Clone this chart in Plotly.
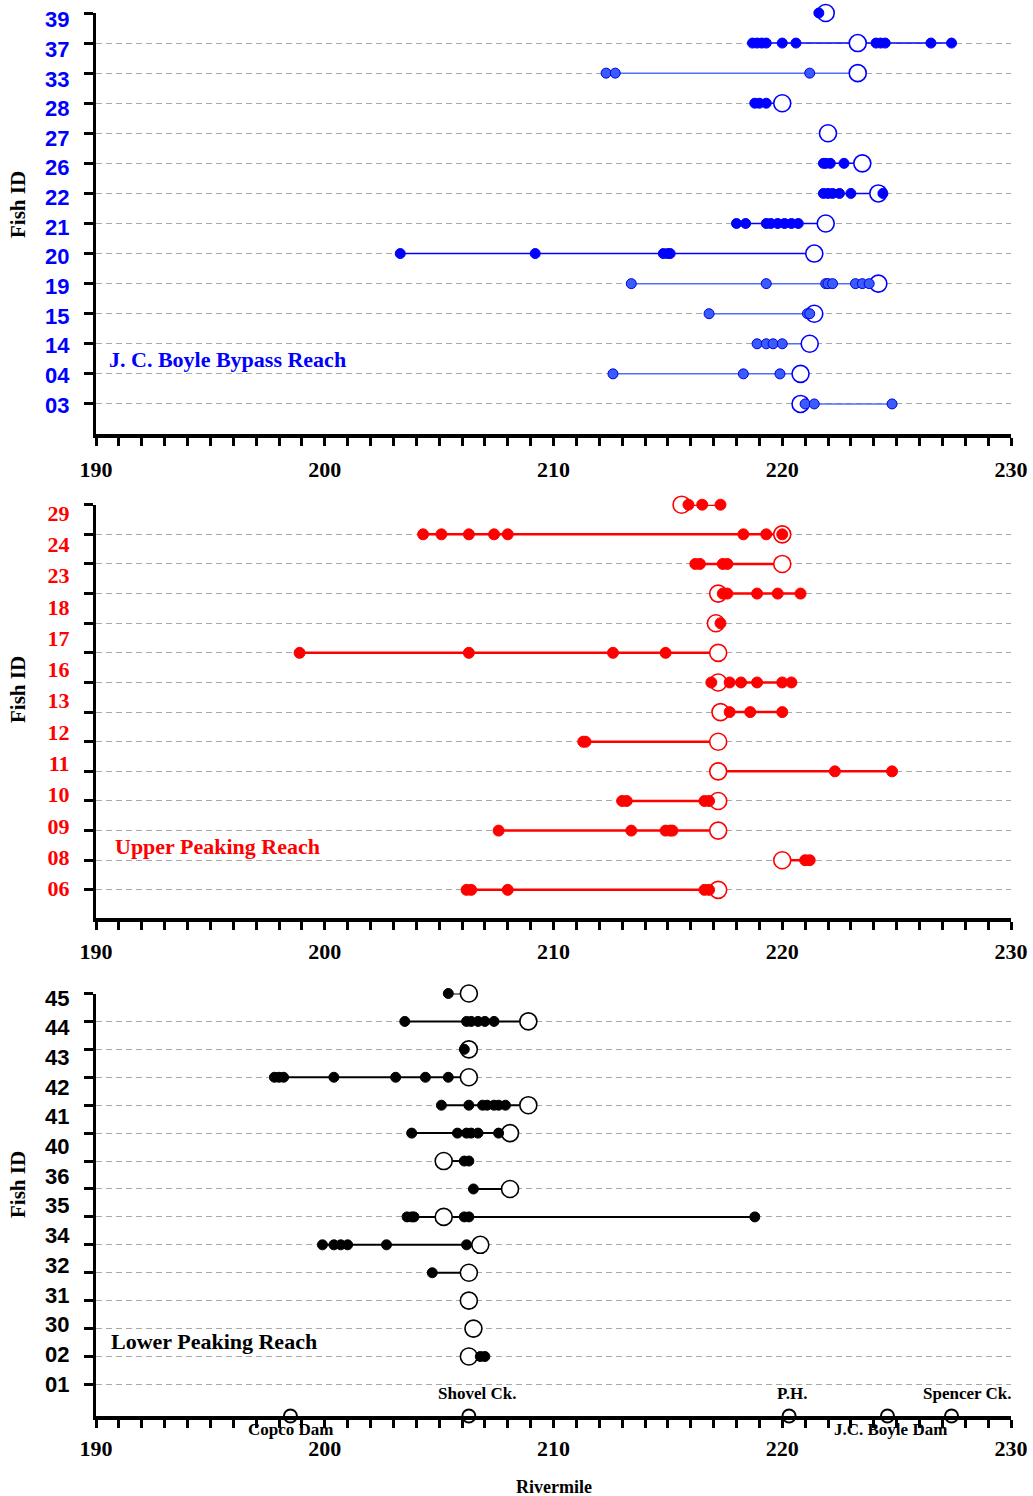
import numpy as np
import plotly.graph_objects as go

# ---------------- data ----------------
# Panel 1: J. C. Boyle Bypass Reach
bypass_ids = ["39", "37", "33", "28", "27", "26", "22", "21", "20", "19", "15", "14", "04", "03"]
bypass_release = [221.9, 223.3, 223.3, 220.0, 222.0, 223.5, 224.2, 221.9, 221.4, 224.2, 221.4, 221.2, 220.8, 220.8]
bypass_locations = [
    [221.6],
    [218.7, 218.9, 219.1, 219.3, 220.0, 220.6, 224.1, 224.3, 224.5, 226.5, 227.4],
    [212.3, 212.7, 221.2],
    [218.8, 219.0, 219.3],
    [],
    [221.8, 221.9, 222.1, 222.7],
    [221.8, 222.0, 222.2, 222.5, 223.0, 224.4],
    [218.0, 218.4, 219.3, 219.5, 219.8, 220.1, 220.4, 220.7],
    [203.3, 209.2, 214.8, 215.0, 215.1],
    [213.4, 219.3, 221.9, 222.0, 222.2, 223.2, 223.5, 223.8],
    [216.8, 221.1, 221.2],
    [218.9, 219.3, 219.6, 220.0],
    [212.6, 218.3, 219.9],
    [221.0, 221.4, 224.8],
]

# Panel 2: Upper Peaking Reach
upper_ids = ["29", "24", "23", "18", "17", "16", "13", "12", "11", "10", "09", "08", "06"]
upper_release = [215.6, 220.0, 220.0, 217.2, 217.1, 217.2, 217.2, 217.3, 217.2, 217.2, 217.2, 217.2, 220.0, 217.2]
upper_locations = [
    [215.9, 216.5, 217.3],
    [204.3, 205.1, 206.3, 207.4, 208.0, 218.3, 219.3, 220.0],
    [216.2, 216.4, 217.4, 217.6],
    [217.4, 217.6, 218.9, 219.8, 220.8],
    [217.3],
    [198.9, 206.3, 212.6, 214.9],
    [216.9, 217.7, 218.2, 218.9, 220.0, 220.4],
    [217.7, 218.6, 220.0],
    [211.3, 211.4],
    [222.3, 224.8],
    [213.0, 213.2, 216.6, 216.8],
    [207.6, 213.4, 214.9, 215.1, 215.2],
    [221.0, 221.2],
    [206.2, 206.4, 208.0, 216.6, 216.8],
]

# Panel 3: Lower Peaking Reach
lower_ids = ["45", "44", "43", "42", "41", "40", "36", "35", "34", "32", "31", "30", "02", "01"]
lower_release = [206.3, 208.9, 206.3, 206.3, 208.9, 208.1, 205.2, 208.1, 205.2, 206.8, 206.3, 206.3, 206.5, 206.3]
lower_locations = [
    [205.4],
    [203.5, 206.2, 206.4, 206.7, 207.0, 207.4],
    [206.1],
    [197.8, 198.0, 198.2, 200.4, 203.1, 204.4, 205.4],
    [205.1, 206.3, 206.9, 207.1, 207.4, 207.6, 207.9],
    [203.8, 205.8, 206.2, 206.4, 206.7, 207.6],
    [206.1, 206.3],
    [206.5],
    [203.6, 203.8, 203.9, 206.1, 206.3, 218.8],
    [199.9, 200.4, 200.7, 201.0, 202.7, 206.2],
    [204.7],
    [],
    [],
    [206.8, 207.0],
]

landmark_names = ["Copco Dam", "Shovel Ck.", "P.H.", "J.C. Boyle Dam", "Spencer Ck."]
landmark_rm = [198.5, 206.3, 220.3, 224.6, 227.4]

x_ticks = [190, 200, 210, 220, 230]

# ---------------- layout helpers ----------------
W, H = 1033, 1496
ML, MR = 96, 22
PW = W - ML - MR


def pyf(px):
    return 1 - px / H


def pxf(px):
    return (px - ML) / PW


SERIF = "Liberation Serif"
SANS = "Liberation Sans"

panels = [
    dict(ids=bypass_ids, rel=bypass_release, loc=bypass_locations, color="#0000ff",
         top=13, bottom=434, n_grid=14, axis_row=14.0, lab=(0.22, 13.03),
         font=SANS, light_rows=[2, 9, 10, 11, 12, 13], lw=1.5, msize=10,
         title="J. C. Boyle Bypass Reach", title_pos=(107, 360), fish_y=205, xstand=5),
    dict(ids=upper_ids, rel=upper_release, loc=upper_locations, color="#ff0000",
         top=504.7, bottom=918, n_grid=14, axis_row=13.95, lab=(0.28, 12.95),
         font=SERIF, light_rows=[], lw=2.5, msize=11,
         title="Upper Peaking Reach", title_pos=(113, 846), fish_y=690, xstand=3),
    dict(ids=lower_ids, rel=lower_release, loc=lower_locations, color="#000000",
         top=993.5, bottom=1416, n_grid=15, axis_row=15.13, lab=(0.16, 13.98),
         font=SANS, light_rows=[], lw=2, msize=10,
         title="Lower Peaking Reach", title_pos=(109, 1341), fish_y=1185, xstand=2),
]

fig = go.Figure()
annotations = []

for i, p in enumerate(panels):
    k = "" if i == 0 else str(i + 1)
    xr, yr = "x" + k, "y" + k
    col = p["color"]
    n = len(p["rel"])

    # connecting lines (range of each fish)
    for r in range(n):
        vals = list(p["loc"][r]) + [p["rel"][r]]
        if max(vals) > min(vals):
            lc = "#4f6fff" if r in p["light_rows"] else col
            fig.add_trace(go.Scatter(
                x=[min(vals), max(vals)], y=[-r, -r], xaxis=xr, yaxis=yr,
                mode="lines", line=dict(color=lc, width=p["lw"]),
                hoverinfo="skip", showlegend=False, cliponaxis=False))

    # release (open) locations
    fig.add_trace(go.Scatter(
        x=p["rel"], y=[-r for r in range(n)], xaxis=xr, yaxis=yr, mode="markers",
        marker=dict(symbol="circle", size=17, color="white", line=dict(color=col, width=1.6)),
        showlegend=False, cliponaxis=False))

    # relocations (filled)
    groups = [(False, col, col), (True, "#3a5cff", "#0000dd")]
    for light, fill, edge in groups:
        xs, ys = [], []
        for r in range(n):
            if (r in p["light_rows"]) == light:
                xs += p["loc"][r]
                ys += [-r] * len(p["loc"][r])
        if xs:
            fig.add_trace(go.Scatter(
                x=xs, y=ys, xaxis=xr, yaxis=yr, mode="markers",
                marker=dict(symbol="circle", size=p["msize"], color=fill, line=dict(color=edge, width=1)),
                showlegend=False, cliponaxis=False))

    label_rows = np.linspace(p["lab"][0], p["lab"][1], len(p["ids"]))
    fig.layout["xaxis" + k] = dict(
        domain=[0, 1], anchor=yr, range=[190, 230], tickmode="array", tickvals=x_ticks,
        ticks="outside", ticklen=8, tickwidth=2.5, tickcolor="black", automargin=False,
        showline=True, linewidth=3.5, linecolor="black", showgrid=False, zeroline=False,
        tickfont=dict(family=SERIF, size=22, color="black", weight="bold"),
        ticklabelstandoff=p["xstand"],
        minor=dict(tickmode="linear", tick0=190, dtick=1, ticks="outside", ticklen=8,
                   tickwidth=2.5, tickcolor="black", showgrid=False))
    fig.layout["yaxis" + k] = dict(
        domain=[pyf(p["bottom"]), pyf(p["top"])], anchor=xr, range=[-p["axis_row"], 0],
        showline=True, linewidth=3, linecolor="black", zeroline=False, showgrid=False,
        tickmode="array", tickvals=[-v for v in label_rows], ticktext=p["ids"], ticks="",
        tickfont=dict(family=p["font"], size=22, color=col, weight="bold"), automargin=False,
        ticklabelstandoff=19,
        minor=dict(tickmode="array", tickvals=[-g for g in range(p["n_grid"])], ticks="outside",
                   ticklen=9, tickwidth=2.5, tickcolor="black", showgrid=True,
                   gridcolor="#a8a8a8", gridwidth=1, griddash="6px,4px"))

    annotations.append(dict(
        xref="paper", yref="paper", x=pxf(p["title_pos"][0]), y=pyf(p["title_pos"][1]),
        xanchor="left", yanchor="middle", text=p["title"], showarrow=False,
        font=dict(family=SERIF, size=22, color=col, weight="bold")))
    annotations.append(dict(
        xref="paper", yref="paper", x=pxf(18), y=pyf(p["fish_y"]), textangle=-90,
        xanchor="center", yanchor="middle", text="Fish ID", showarrow=False,
        font=dict(family=SERIF, size=21, color="black", weight="bold")))

# landmarks on the bottom axis
p3 = panels[2]
fig.add_trace(go.Scatter(
    x=landmark_rm, y=[-p3["axis_row"]] * len(landmark_rm), xaxis="x3", yaxis="y3",
    mode="markers", marker=dict(symbol="circle", size=13, color="white",
                                line=dict(color="black", width=2)),
    showlegend=False, cliponaxis=False))
below = ["Copco Dam", "J.C. Boyle Dam"]
shifts = {"Copco Dam": 0, "Shovel Ck.": 8, "P.H.": 3, "J.C. Boyle Dam": 3, "Spencer Ck.": 15}
for name, rm in zip(landmark_names, landmark_rm):
    is_below = name in below
    annotations.append(dict(
        xref="x3", yref="y3", x=rm, y=-p3["axis_row"], text=name, showarrow=False,
        xanchor="center", yanchor="middle", xshift=shifts[name],
        yshift=-13 if is_below else 23,
        font=dict(family=SERIF, size=17, color="black", weight="bold")))

annotations.append(dict(
    xref="paper", yref="paper", x=pxf(554), y=pyf(1487), text="Rivermile", showarrow=False,
    xanchor="center", yanchor="middle",
    font=dict(family=SERIF, size=18, color="black", weight="bold")))

fig.update_layout(
    width=W, height=H, margin=dict(l=ML, r=MR, t=0, b=0, autoexpand=False),
    paper_bgcolor="white", plot_bgcolor="white", showlegend=False,
    annotations=annotations, hovermode=False)

fig.write_html("out.html")
